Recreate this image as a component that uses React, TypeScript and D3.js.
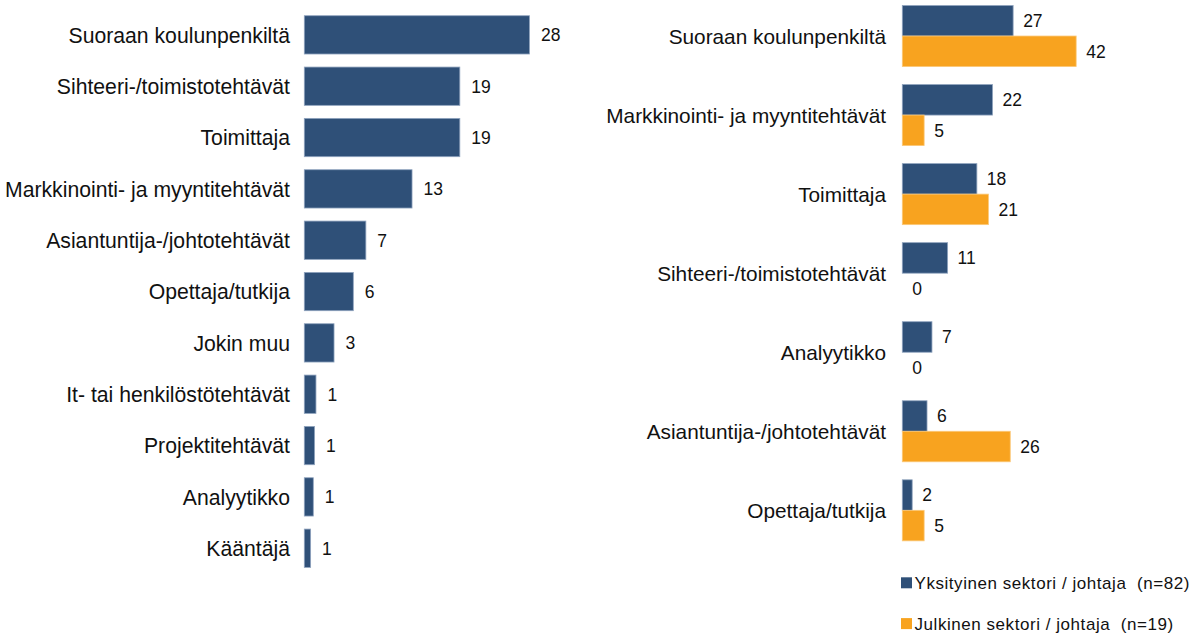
import React from "react";
import * as d3 from "d3";

const leftCategories = [
  "Suoraan koulunpenkiltä",
  "Sihteeri-/toimistotehtävät",
  "Toimittaja",
  "Markkinointi- ja myyntitehtävät",
  "Asiantuntija-/johtotehtävät",
  "Opettaja/tutkija",
  "Jokin muu",
  "It- tai henkilöstötehtävät",
  "Projektitehtävät",
  "Analyytikko",
  "Kääntäjä",
];
const leftValues = [27.8, 19.2, 19.2, 13.3, 7.6, 6.05, 3.67, 1.44, 1.27, 1.11, 0.78];
const leftLabels = ["28", "19", "19", "13", "7", "6", "3", "1", "1", "1", "1"];

const rightCategories = [
  "Suoraan koulunpenkiltä",
  "Markkinointi- ja myyntitehtävät",
  "Toimittaja",
  "Sihteeri-/toimistotehtävät",
  "Analyytikko",
  "Asiantuntija-/johtotehtävät",
  "Opettaja/tutkija",
];
const privateValues = [26.9, 21.9, 18.1, 11.0, 7.2, 6.0, 2.4];
const publicValues = [42.2, 5.3, 20.9, 0, 0, 26.2, 5.3];
const seriesNames = [
  "Yksityinen sektori / johtaja  (n=82)",
  "Julkinen sektori / johtaja  (n=19)",
];
const seriesColors = ["#2F5078", "#F8A31F"];
const seriesStrokes = ["#8FA3BE", "#FBC878"];

const W = 1201;
const H = 636;
const FONT = "'Liberation Sans', Arial, sans-serif";

export default function App() {
  const lx = d3.scaleLinear().domain([0, 30]).range([304.3, 304.3 + 8.1 * 30]);
  const ly = d3
    .scaleBand<string>()
    .domain(leftCategories)
    .range([9.2, 573.9])
    .paddingInner(0.254)
    .paddingOuter(0.127);

  const rx = d3.scaleLinear().domain([0, 50]).range([902.3, 902.3 + 4.12 * 50]);
  const ry = d3
    .scaleBand<string>()
    .domain(rightCategories)
    .range([-3.5, 549.85])
    .paddingInner(0.228)
    .paddingOuter(0.114);
  const rs = d3
    .scaleBand<number>()
    .domain([0, 1])
    .range([0, ry.bandwidth()])
    .padding(0);
  const series = [privateValues, publicValues];

  return (
    <svg
      width={W}
      height={H}
      style={{ position: "absolute", left: 0, top: 0, background: "#fff" }}
      fontFamily={FONT}
    >
      <rect x={0} y={0} width={W} height={H} fill="#fff" />
      <g>
        {leftCategories.map((c, i) => {
          const y = ly(c)!;
          const bw = ly.bandwidth();
          const x0 = lx(0);
          const x1 = lx(leftValues[i]);
          return (
            <g key={"l" + i}>
              <text
                x={290}
                y={y + bw / 2}
                dy="0.36em"
                textAnchor="end"
                fontSize={21.2}
                fill="#111"
              >
                {c}
              </text>
              <rect
                x={x0}
                y={y}
                width={x1 - x0}
                height={bw}
                fill={seriesColors[0]}
                stroke={seriesStrokes[0]}
                strokeWidth={0.8}
              />
              <text
                x={x1 + 11.5}
                y={y + bw / 2}
                dy="0.36em"
                fontSize={17.5}
                fill="#111"
              >
                {leftLabels[i]}
              </text>
            </g>
          );
        })}
      </g>
      <g>
        {rightCategories.map((c, i) => {
          const gy = ry(c)!;
          const gb = ry.bandwidth();
          return (
            <g key={"r" + i}>
              <text
                x={886}
                y={gy + gb / 2}
                dy="0.36em"
                textAnchor="end"
                fontSize={20.8}
                fill="#111"
              >
                {c}
              </text>
              {series.map((vals, s) => {
                const by = gy + rs(s)!;
                const bh = rs.bandwidth();
                const x0 = rx(0);
                const x1 = rx(vals[i]);
                return (
                  <g key={"s" + s}>
                    {vals[i] > 0 && (
                      <rect
                        x={x0}
                        y={by}
                        width={x1 - x0}
                        height={bh}
                        fill={seriesColors[s]}
                        stroke={seriesStrokes[s]}
                        strokeWidth={0.8}
                      />
                    )}
                    <text
                      x={x1 + 10}
                      y={by + bh / 2}
                      dy="0.36em"
                      fontSize={17.5}
                      fill="#111"
                    >
                      {Math.round(vals[i])}
                    </text>
                  </g>
                );
              })}
            </g>
          );
        })}
      </g>
      <g>
        {seriesNames.map((n, i) => {
          const cy = 582.8 + i * 40.8;
          return (
            <g key={"lg" + i}>
              <rect x={901} y={cy - 5.5} width={11} height={11} fill={seriesColors[i]} />
              <text
                x={914.5}
                y={cy}
                dy="0.36em"
                fontSize={17}
                letterSpacing={0.55}
                fill="#111"
                style={{ whiteSpace: "pre" }}
              >
                {n}
              </text>
            </g>
          );
        })}
      </g>
    </svg>
  );
}
